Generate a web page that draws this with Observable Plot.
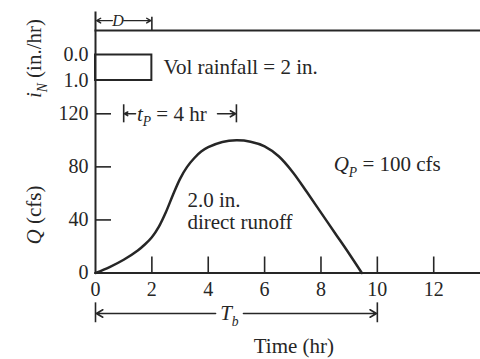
<!DOCTYPE html>
<html><head><meta charset="utf-8">
<script src="https://cdn.jsdelivr.net/npm/d3@7"></script>
<script src="https://cdn.jsdelivr.net/npm/@observablehq/plot@0.6"></script>
<style>
html,body{margin:0;padding:0;background:#fff;overflow:hidden}
#chart{position:relative;width:480px;height:359px}
#chart svg{position:absolute;left:0;top:0}
</style></head><body><div id="chart"></div>
<script>
// ---- data ----
const hours  = [0, 0.5, 1, 1.5, 1.75, 2, 2.25, 2.5, 2.75, 3, 3.25, 3.5, 3.75, 4, 4.5, 5, 5.5, 6, 6.5, 7, 7.5, 8, 8.5, 9, 9.45];
const runoff = [0, 4.5, 10, 17, 21.5, 27, 35, 46, 59, 71, 80, 86.5, 91.5, 94.8, 98.8, 100, 99, 95.5, 88, 76, 61, 45.5, 30, 14.5, 0];
const rainStart = 0, rainEnd = 2;        // D = 2 hr
const rainIntensity = 1.0;               // in./hr
const rainCentroid = 1, peakTime = 5;    // tP = 4 hr
const baseStart = 0, baseEnd = 10;       // Tb
const timeTicks = [0, 2, 4, 6, 8, 10, 12];
const flowTicks = [0, 40, 80, 120];
const intensityTicks = [0.0, 1.0];

const INK = "#262626";
const W = 480, H = 359, ML = 95;
const xScale = {domain: [0, 13.66]};
const font = {fontFamily: "'Liberation Serif', 'Times New Roman', serif", fontSize: "20px", color: INK, background: "transparent", overflow: "visible"};

const hydro = hours.map((t, i) => ({t, q: runoff[i]}));

// ---- hydrograph plot ----
const plotB = Plot.plot({
  width: W, height: H, marginLeft: ML, marginRight: 0, marginTop: 12, marginBottom: 86.5,
  style: font,
  x: {...xScale},
  y: {domain: [0, 120], range: [272.5, 113.3]},
  marks: [
    Plot.frame({anchor: "left", stroke: INK, strokeWidth: 2}),
    Plot.frame({anchor: "bottom", stroke: INK, strokeWidth: 2}),
    Plot.tickX(timeTicks.filter(d => d > 0), {x: d => d, insetTop: 244.5, stroke: INK, strokeWidth: 1.6}),
    Plot.tickY(flowTicks.filter(d => d > 0), {y: d => d, insetRight: 369, stroke: INK, strokeWidth: 1.6}),
    Plot.axisX(timeTicks, {tickSize: 0, tickPadding: 9, label: null, fontSize: 20}),
    Plot.axisY(flowTicks, {tickSize: 0, tickPadding: 7, label: null, fontSize: 20}),
    Plot.line(hydro, {x: "t", y: "q", curve: "catmull-rom", stroke: INK, strokeWidth: 2.5}),
    // tP annotation
    Plot.ruleX([rainCentroid, peakTime], {x: d => d, y1: 113.2, y2: 126.8, stroke: INK, strokeWidth: 1.6}),
    Plot.arrow([{a: 1.42, b: rainCentroid + 0.03}, {a: 4.33, b: peakTime - 0.03}], {x1: "a", x2: "b", y1: 120, y2: 120, headLength: 7, stroke: INK, strokeWidth: 1.6}),
    Plot.text(["*t*_{P} = 4 hr"], {x: 1.47, y: 120, textAnchor: "start", fontSize: 21}),
    // Tb annotation
    Plot.ruleX([baseStart, baseEnd], {x: d => d, y1: -22.5, y2: -37.5, stroke: INK, strokeWidth: 1.6}),
    Plot.arrow([{a: 4.26, b: baseStart + 0.03}, {a: 5.25, b: baseEnd - 0.03}], {x1: "a", x2: "b", y1: -30.5, y2: -30.5, headLength: 7, stroke: INK, strokeWidth: 1.6}),
    Plot.text(["*T*_{b}"], {x: 4.75, y: -30.5, fontSize: 21}),
    // labels
    Plot.text(["*Q*_{P} = 100 cfs"], {x: 8.45, y: 81.9, textAnchor: "start", fontSize: 21}),
    Plot.text(["2.0 in."], {x: 3.26, y: 54.8, textAnchor: "start", fontSize: 21}),
    Plot.text(["direct runoff"], {x: 3.26, y: 38.2, textAnchor: "start", fontSize: 21}),
    Plot.text(["Time (hr)"], {x: 7.04, y: -55.6, fontSize: 21}),
    Plot.text(["*Q* (cfs)"], {frameAnchor: "left", y: 21.5, dx: -61, rotate: -90, fontSize: 21})
  ]
});

// ---- rainfall (hyetograph) plot ----
const plotA = Plot.plot({
  width: W, height: H, marginLeft: ML, marginRight: 0, marginTop: 30, marginBottom: 194,
  style: font,
  x: {...xScale, axis: null},
  y: {domain: [0, 1], range: [54.5, 80], axis: null},
  marks: [
    Plot.frame({anchor: "top", stroke: INK, strokeWidth: 2}),
    Plot.rect([{x1: rainStart, x2: rainEnd, i: rainIntensity}], {x1: "x1", x2: "x2", y1: 0, y2: "i", fill: "none", stroke: INK, strokeWidth: 2}),
    Plot.axisY(intensityTicks, {tickSize: 0, tickPadding: 7, label: null, tickFormat: d3.format(".1f"), fontSize: 20}),
    Plot.ruleX([rainEnd], {x: d => d, y1: -1.48, y2: -0.96, stroke: INK, strokeWidth: 1.6}),
    Plot.arrow([{a: 0.6, b: rainStart + 0.04}, {a: 1.0, b: rainEnd - 0.04}], {x1: "a", x2: "b", y1: -1.35, y2: -1.35, headLength: 5, stroke: INK, strokeWidth: 1.4}),
    Plot.text(["*D*"], {x: 0.8, y: -1.35, fontSize: 16}),
    Plot.text(["Vol rainfall = 2 in."], {x: 2.41, y: 0.47, textAnchor: "start", fontSize: 21}),
    Plot.text(["*i*_{N} (in./hr)"], {frameAnchor: "left", y: 1.69, dx: -61, rotate: -90, fontSize: 21})
  ]
});

function richText(svg) {
  const NS = "http://www.w3.org/2000/svg";
  svg.querySelectorAll("text").forEach(t => {
    const s = t.textContent;
    if (!/[*_]/.test(s)) return;
    const fs = parseFloat(t.getAttribute("font-size")) || parseFloat(getComputedStyle(t).fontSize) || 20;
    const shift = fs * 0.28;
    t.textContent = "";
    const re = /\*([^*]+)\*|_\{([^}]+)\}|([^*_]+)/g;
    let m, down = false;
    while ((m = re.exec(s))) {
      const ts = document.createElementNS(NS, "tspan");
      if (m[2] != null) {
        ts.textContent = m[2];
        ts.setAttribute("font-style", "italic");
        ts.setAttribute("font-size", (fs * 0.68).toFixed(1));
        ts.setAttribute("dy", shift.toFixed(1));
        down = true;
      } else {
        ts.textContent = m[1] != null ? m[1] : m[3];
        if (m[1] != null) ts.setAttribute("font-style", "italic");
        if (down) { ts.setAttribute("dy", (-shift).toFixed(1)); down = false; }
      }
      t.appendChild(ts);
    }
  });
}
richText(plotA); richText(plotB);
const chart = document.getElementById("chart");
chart.appendChild(plotB);
chart.appendChild(plotA);
</script></body></html>
